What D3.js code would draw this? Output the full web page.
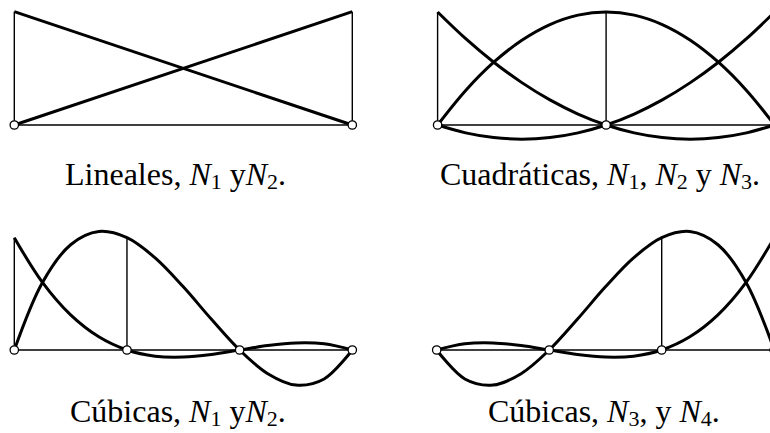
<!DOCTYPE html>
<html>
<head>
<meta charset="utf-8">
<script src="https://cdn.jsdelivr.net/npm/d3@7"></script>
<style>
  html, body { margin: 0; padding: 0; background: #fff; }
  svg { display: block; }
  text { font-family: "Liberation Serif", "Times New Roman", serif; fill: #000; }
</style>
</head>
<body>
<svg id="chart" width="770" height="433"></svg>
<script>
// Sample positions along the reference element, xi in [0, 1]
const xiLinear = [0, 1];
const xiSamples = [0, 1/12, 2/12, 3/12, 4/12, 5/12, 6/12, 7/12, 8/12, 9/12, 10/12, 11/12, 1];

// Linear shape functions
const linN1 = [1, 0];
const linN2 = [0, 1];

// Quadratic shape functions (nodes at 0, 1/2, 1)
const quadNodes = [0, 0.5, 1];
const quadN1 = [1, 0.7639, 0.5556, 0.375, 0.2222, 0.0972, 0, -0.0694, -0.1111, -0.125, -0.1111, -0.0694, 0];
const quadN2 = [0, 0.3056, 0.5556, 0.75, 0.8889, 0.9722, 1, 0.9722, 0.8889, 0.75, 0.5556, 0.3056, 0];
const quadN3 = [0, -0.0694, -0.1111, -0.125, -0.1111, -0.0694, 0, 0.0972, 0.2222, 0.375, 0.5556, 0.7639, 1];

// Cubic shape functions (nodes at 0, 1/3, 2/3, 1)
const cubNodes = [0, 1/3, 2/3, 1];
const cubN1 = [1, 0.6016, 0.3125, 0.1172, 0, -0.0547, -0.0625, -0.0391, 0, 0.0391, 0.0625, 0.0547, 0];
const cubN2 = [0, 0.6016, 0.9375, 1.0547, 1, 0.8203, 0.5625, 0.2734, 0, -0.2109, -0.3125, -0.2578, 0];
const cubN3 = [0, -0.2578, -0.3125, -0.2109, 0, 0.2734, 0.5625, 0.8203, 1, 1.0547, 0.9375, 0.6016, 0];
const cubN4 = [0, 0.0547, 0.0625, 0.0391, 0, -0.0391, -0.0625, -0.0547, 0, 0.1172, 0.3125, 0.6016, 1];

// Captions: [text, style] runs (r = roman, i = italic, s = subscript)
const captions = [
  [["Lineales, ", "r"], ["N", "i"], ["1", "s"], [" y", "r"], ["N", "i"], ["2", "s"], [".", "r"]],
  [["Cuadráticas, ", "r"], ["N", "i"], ["1", "s"], [", ", "r"], ["N", "i"], ["2", "s"], [" y ", "r"], ["N", "i"], ["3", "s"], [".", "r"]],
  [["Cúbicas, ", "r"], ["N", "i"], ["1", "s"], [" y", "r"], ["N", "i"], ["2", "s"], [".", "r"]],
  [["Cúbicas, ", "r"], ["N", "i"], ["3", "s"], [", y ", "r"], ["N", "i"], ["4", "s"], [".", "r"]]
];

// Panel layout
const panels = [
  { x0: 14.3, x1: 352.3, base: 125, top: 11.7, xs: xiLinear, series: [linN1, linN2],
    nodes: [0, 1], peaks: [0, 1], cap: captions[0], capX: 65, capY: 185 },
  { x0: 437.6, x1: 774.6, base: 125, top: 12, xs: xiSamples, series: [quadN1, quadN2, quadN3],
    nodes: quadNodes, peaks: [0, 0.5, 1], cap: captions[1], capX: 440, capY: 185 },
  { x0: 14.3, x1: 352.3, base: 350, top: 237.7, xs: xiSamples, series: [cubN1, cubN2],
    nodes: cubNodes, peaks: [0, 1/3], cap: captions[2], capX: 70, capY: 421.5 },
  { x0: 436.7, x1: 774.2, base: 350, top: 237.7, xs: xiSamples, series: [cubN3, cubN4],
    nodes: cubNodes, peaks: [2/3, 1], cap: captions[3], capX: 488, capY: 421.5 }
];

const svg = d3.select("#chart");

panels.forEach(p => {
  const x = d3.scaleLinear().domain([0, 1]).range([p.x0, p.x1]);
  const y = d3.scaleLinear().domain([0, 1]).range([p.base, p.top]);
  const g = svg.append("g");

  // element axis
  g.append("line")
    .attr("x1", x(0)).attr("x2", x(1))
    .attr("y1", y(0)).attr("y2", y(0))
    .attr("stroke", "#000").attr("stroke-width", 1.4);

  // unit-height markers at each function's own node
  g.selectAll("line.peak").data(p.peaks).join("line")
    .attr("class", "peak")
    .attr("x1", d => x(d)).attr("x2", d => x(d))
    .attr("y1", y(0)).attr("y2", y(1))
    .attr("stroke", "#000").attr("stroke-width", 1.4);

  // shape functions
  const line = d3.line()
    .x((d, i) => x(p.xs[i]))
    .y(d => y(d))
    .curve(p.xs.length > 2 ? d3.curveCatmullRom.alpha(0.5) : d3.curveLinear);

  g.selectAll("path.fn").data(p.series).join("path")
    .attr("class", "fn")
    .attr("d", d => line(d))
    .attr("fill", "none")
    .attr("stroke", "#000")
    .attr("stroke-width", 3)
    .attr("stroke-linejoin", "round");

  // nodes
  g.selectAll("circle").data(p.nodes).join("circle")
    .attr("cx", d => x(d)).attr("cy", y(0)).attr("r", 4.2)
    .attr("fill", "#fff").attr("stroke", "#000").attr("stroke-width", 1.3);

  // caption
  const t = g.append("text")
    .attr("x", p.capX).attr("y", p.capY)
    .attr("font-size", 32)
    .style("white-space", "pre");
  let shifted = false;
  p.cap.forEach(([s, style]) => {
    const span = t.append("tspan").text(s);
    if (style === "i") span.attr("font-style", "italic");
    if (style === "s") {
      span.attr("font-size", 22).attr("dy", 4);
      shifted = true;
    } else if (shifted) {
      // back to the main baseline after a subscript
      span.attr("dy", -4);
      shifted = false;
    }
  });
});
</script>
</body>
</html>
